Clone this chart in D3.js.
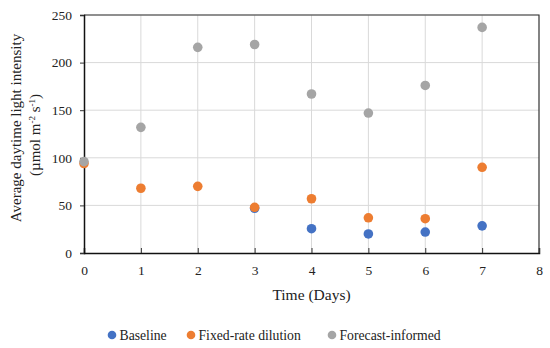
<!DOCTYPE html>
<html>
<head>
<meta charset="utf-8">
<script src="https://cdn.jsdelivr.net/npm/d3@7"></script>
<style>
  body { margin: 0; background: #fff; }
  text { font-family: 'Liberation Serif', 'Times New Roman', serif; fill: #222; }
</style>
</head>
<body>
<script>
const days = [0, 1, 2, 3, 4, 5, 6, 7]
const baseline = [null, null, null, 47, 25.5, 20, 22, 28.5]
const fixedRate = [94, 68, 70, 48, 57, 37, 36, 90]
const forecast = [96, 132, 216, 219, 167, 147, 176, 237]
const xTicks = [0, 1, 2, 3, 4, 5, 6, 7, 8]
const yTicks = [0, 50, 100, 150, 200, 250]

const series = [
  { name: 'Baseline', values: baseline, color: '#4472C4' },
  { name: 'Fixed-rate dilution', values: fixedRate, color: '#ED7D31' },
  { name: 'Forecast-informed', values: forecast, color: '#A5A5A5' }
]

const margin = { top: 15, right: 11, bottom: 95, left: 84 }
const W = 550, H = 348
const width = W - margin.left - margin.right
const height = H - margin.top - margin.bottom

const svg = d3.select('body').append('svg')
  .attr('width', W)
  .attr('height', H)

const g = svg.append('g')
  .attr('transform', `translate(${margin.left}, ${margin.top})`)

const x = d3.scaleLinear().domain([0, 8]).range([0, width])
const y = d3.scaleLinear().domain([0, 250]).range([height, 0])

// grid
g.append('g').selectAll('line').data(yTicks.slice(1)).join('line')
  .attr('x1', 0).attr('x2', width)
  .attr('y1', d => y(d)).attr('y2', d => y(d))
  .attr('stroke', '#d9d9d9').attr('stroke-width', 1)
g.append('g').selectAll('line').data(xTicks.slice(1, -1)).join('line')
  .attr('x1', d => x(d)).attr('x2', d => x(d))
  .attr('y1', 0).attr('y2', height)
  .attr('stroke', '#d9d9d9').attr('stroke-width', 1)

// plot border (top / right)
g.append('path')
  .attr('d', `M0,0H${width}V${height}`)
  .attr('fill', 'none').attr('stroke', '#333').attr('stroke-width', 1.2)

// axes
const xAxis = g.append('g')
  .attr('transform', `translate(0, ${height})`)
  .call(d3.axisBottom(x).tickValues(xTicks).tickSize(-5).tickPadding(12).tickFormat(d3.format('d')))
const yAxis = g.append('g')
  .call(d3.axisLeft(y).tickValues(yTicks).tickSize(4).tickPadding(8))

;[xAxis, yAxis].forEach(a => {
  a.select('.domain').attr('stroke', '#111').attr('stroke-width', 1.5)
  a.selectAll('.tick line').attr('stroke', '#333')
  a.selectAll('.tick text').style('font-family', "'Liberation Serif', serif").style('font-size', '13.5px').attr('fill', '#222')
})

// points
series.forEach(s => {
  const pts = s.values.map((v, i) => ({ d: days[i], v })).filter(p => p.v != null)
  g.append('g').selectAll('circle').data(pts).join('circle')
    .attr('cx', p => x(p.d))
    .attr('cy', p => y(p.v))
    .attr('r', 4.8)
    .attr('fill', s.color)
})

// axis titles
svg.append('text')
  .attr('x', margin.left + width / 2)
  .attr('y', 300)
  .attr('text-anchor', 'middle')
  .style('font-size', '15.5px')
  .text('Time (Days)')

const yt = svg.append('g').attr('transform', 'translate(21, 128) rotate(-90)')
yt.append('text')
  .attr('text-anchor', 'middle')
  .style('font-size', '15px')
  .text('Average daytime light intensity')
const yt2 = svg.append('g').attr('transform', 'translate(40, 135) rotate(-90)')
  .append('text')
  .attr('text-anchor', 'middle')
  .style('font-size', '15px')
yt2.append('tspan').text('(µmol m')
yt2.append('tspan').attr('baseline-shift', 'super').style('font-size', '9px').text('-2')
yt2.append('tspan').text(' s')
yt2.append('tspan').attr('baseline-shift', 'super').style('font-size', '9px').text('-1')
yt2.append('tspan').text(')')

// legend
const legendX = [112, 191, 332]
const legend = svg.append('g')
series.forEach((s, i) => {
  legend.append('circle')
    .attr('cx', legendX[i]).attr('cy', 335).attr('r', 4.3).attr('fill', s.color)
  legend.append('text')
    .attr('x', legendX[i] + 7.5).attr('y', 340)
    .style('font-size', '13.7px')
    .text(s.name)
})
</script>
</body>
</html>
